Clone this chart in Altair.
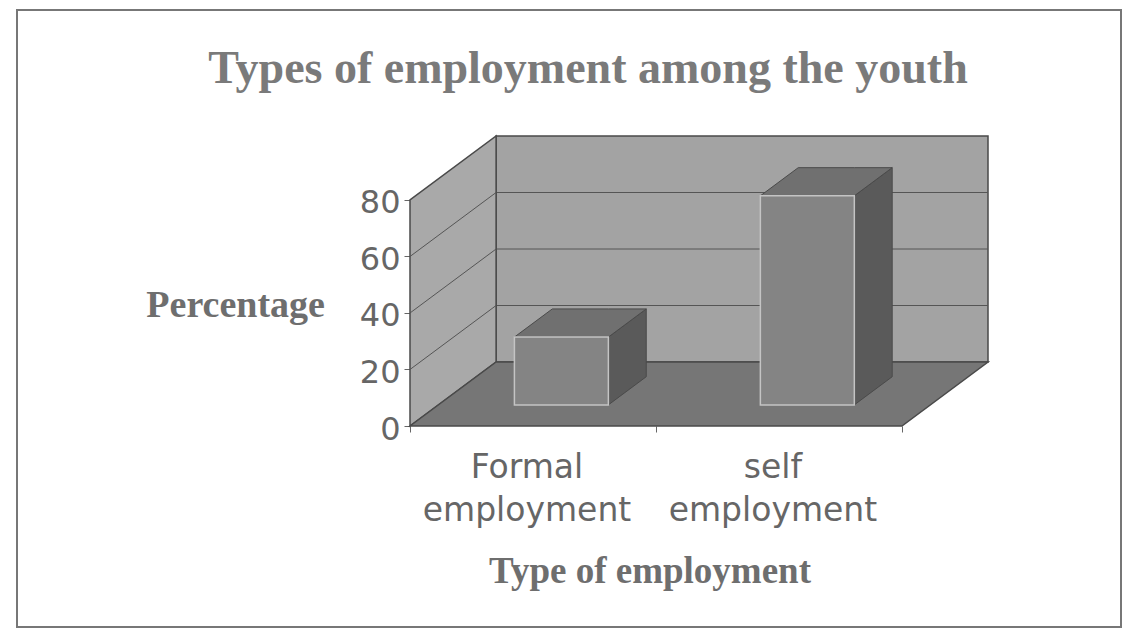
import altair as alt
import pandas as pd

# ---- data ----
categories = ["Formal\nemployment", "self\nemployment"]
values = [24, 74]
y_ticks = [0, 20, 40, 60, 80]
chart_title = "Types of employment among the youth"
x_title = "Type of employment"
y_title = "Percentage"

# ---- 3D box geometry (in data units) ----
N = len(categories)
YTOP = max(y_ticks)
DX = 0.35      # depth of the box along x
DY = 22.65     # depth of the box along y
HALF = 0.191   # half width of a bar
F0, F1 = 0.33, 0.77  # front / back depth fraction of the bars

XS = alt.Scale(domain=[0, N + DX], nice=False, zero=False)
YS = alt.Scale(domain=[0, YTOP + DY], nice=False, zero=False)

grey = "#666666"
x_axis = alt.Axis(values=list(range(N + 1)), labels=False, domain=False, grid=False,
                  ticks=True, tickSize=6, tickColor=grey, title=None)
y_axis = alt.Axis(values=y_ticks, domain=False, grid=False, tickSize=6, tickColor=grey,
                  labelFont="DejaVu Sans", labelFontSize=32, labelColor=grey,
                  labelPadding=4, labelOffset=3, title=None)


def X(field="x"):
    return alt.X(f"{field}:Q", scale=XS, axis=x_axis)


def Y(field="y"):
    return alt.Y(f"{field}:Q", scale=YS, axis=y_axis)


# floor
floor = pd.DataFrame({"x": [0, DX, N, N + DX], "y": [0, 0, 0, DY], "y2": [0, DY, DY, DY]})
# left wall
lwall = pd.DataFrame({"x": [0, DX], "y": [0, DY], "y2": [YTOP, YTOP + DY]})
# back wall
bwall = pd.DataFrame({"x": [DX], "x2": [N + DX], "y": [DY], "y2": [YTOP + DY]})
grid_vals = [v for v in y_ticks if 0 < v < YTOP]
bgrid = pd.DataFrame({"x": [DX] * len(grid_vals), "x2": [N + DX] * len(grid_vals),
                      "y": [v + DY for v in grid_vals]})
lgrid_rows = []
for v in grid_vals:
    lgrid_rows.append({"g": v, "x": 0, "y": v})
    lgrid_rows.append({"g": v, "x": DX, "y": v + DY})
lgrid = pd.DataFrame(lgrid_rows)

front_rows, top_rows, side_rows = [], [], []
for i, (c, v) in enumerate(zip(categories, values)):
    L, R = i + 0.5 - HALF, i + 0.5 + HALF
    v0, v1 = v + F0 * DY, v + F1 * DY
    front_rows.append({"cat": c, "x": L + F0 * DX, "x2": R + F0 * DX, "y": F0 * DY, "y2": v0})
    for (xx, yy, yy2) in [(L + F0 * DX, v0, v0), (L + F1 * DX, v0, v1),
                          (R + F0 * DX, v0, v1), (R + F1 * DX, v1, v1)]:
        top_rows.append({"cat": c, "x": xx, "y": yy, "y2": yy2})
    side_rows.append({"cat": c, "x": R + F0 * DX, "y": F0 * DY, "y2": v0})
    side_rows.append({"cat": c, "x": R + F1 * DX, "y": F1 * DY, "y2": v1})
front = pd.DataFrame(front_rows)
tops = pd.DataFrame(top_rows)
sides = pd.DataFrame(side_rows)
labels = pd.DataFrame({"cat": categories, "x": [i + 0.5 for i in range(N)]})

edge = "#4a4a4a"

back_layer = alt.Chart(bwall).mark_rect(color="#a3a3a3", stroke=edge, strokeWidth=1.5).encode(
    x=X(), x2="x2:Q", y=Y(), y2="y2:Q")
left_layer = alt.Chart(lwall).mark_area(color="#a9a9a9", stroke=edge, strokeWidth=1.5,
                                        orient="vertical").encode(x=X(), y=Y(), y2="y2:Q")
bgrid_layer = alt.Chart(bgrid).mark_rule(color="#555555", strokeWidth=1).encode(
    x=X(), x2="x2:Q", y=Y())
lgrid_layer = alt.Chart(lgrid).mark_line(color="#555555", strokeWidth=1).encode(
    x=X(), y=Y(), detail="g:N")
floor_layer = alt.Chart(floor).mark_area(color="#767676", stroke=edge, strokeWidth=1.5,
                                         orient="vertical").encode(x=X(), y=Y(), y2="y2:Q")
side_layer = alt.Chart(sides).mark_area(color="#5a5a5a", stroke=edge, strokeWidth=1,
                                        orient="vertical").encode(x=X(), y=Y(), y2="y2:Q",
                                                                  detail="cat:N")
top_layer = alt.Chart(tops).mark_area(color="#707070", stroke=edge, strokeWidth=1,
                                      orient="vertical").encode(x=X(), y=Y(), y2="y2:Q",
                                                                detail="cat:N")
front_layer = alt.Chart(front).mark_rect(color="#848484", stroke="#c4c4c4", strokeWidth=1.5).encode(
    x=X(), x2="x2:Q", y=Y(), y2="y2:Q")

xlab_layer = alt.Chart(labels).mark_text(font="DejaVu Sans", fontSize=33, color=grey,
                                         lineBreak="\n", lineHeight=43, baseline="alphabetic",
                                         align="center", dx=-6).encode(
    x=X(), y=alt.value(342), text="cat:N")

title_layer = alt.Chart(pd.DataFrame({"t": [chart_title]})).mark_text(
    font="Liberation Serif", fontWeight="bold", fontSize=46, color="#7a7a7a",
    baseline="alphabetic", align="center").encode(
    x=alt.value(178), y=alt.value(-53), text="t:N")
ytitle_layer = alt.Chart(pd.DataFrame({"t": [y_title]})).mark_text(
    font="Liberation Serif", fontWeight="bold", fontSize=38, color="#6e6e6e",
    baseline="alphabetic", align="right").encode(
    x=alt.value(-85), y=alt.value(181), text="t:N")
xtitle_layer = alt.Chart(pd.DataFrame({"t": [x_title]})).mark_text(
    font="Liberation Serif", fontWeight="bold", fontSize=37, color="#6e6e6e",
    baseline="alphabetic", align="center").encode(
    x=alt.value(240), y=alt.value(447), text="t:N")
frame_layer = alt.Chart(pd.DataFrame({"a": [0]})).mark_rect(
    fill="transparent", stroke="#777777", strokeWidth=2).encode(
    x=alt.value(-393), x2=alt.value(711), y=alt.value(-126), y2=alt.value(491))

chart = alt.layer(
    back_layer, bgrid_layer, left_layer, lgrid_layer, floor_layer,
    side_layer, top_layer, front_layer,
    xlab_layer, title_layer, ytitle_layer, xtitle_layer, frame_layer,
).properties(
    width=578, height=290,
    autosize=alt.AutoSizeParams(type="none"),
    padding={"left": 402, "top": 128, "right": 135, "bottom": 202},
    background="white",
).configure_view(stroke=None)

chart.save("out.html", embed_options={"renderer": "svg", "actions": False})
